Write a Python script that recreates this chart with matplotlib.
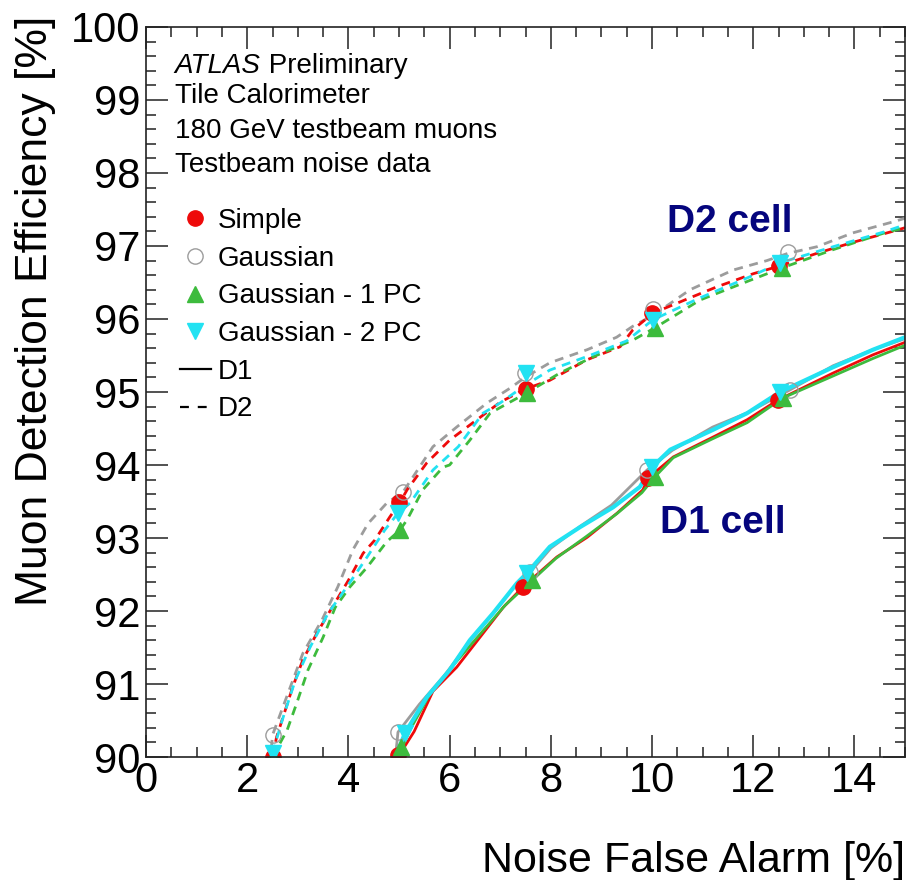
import matplotlib
matplotlib.use('Agg')
import matplotlib.pyplot as plt
from matplotlib.lines import Line2D

plt.rcParams['font.family'] = ['Liberation Sans', 'DejaVu Sans']

# D2 cell curves (dashed)
simple_d2_x = [2.5, 2.58, 2.9, 3.1, 3.38, 3.68, 4.0, 4.29, 4.52, 4.82, 5.02, 5.16, 5.55, 6.0, 6.54, 7.0,
               7.49, 7.98, 8.71, 9.37, 9.62, 10.02, 10.75, 11.28, 12.0, 12.49, 13.26, 13.97, 14.7, 15.0]
simple_d2_y = [90.0, 90.27, 90.96, 91.33, 91.7, 92.05, 92.42, 92.79, 92.97, 93.29, 93.49, 93.66, 94.03, 94.34,
               94.62, 94.86, 95.04, 95.16, 95.44, 95.62, 95.85, 96.08, 96.29, 96.44, 96.62, 96.72, 96.9, 97.05,
               97.19, 97.25]
gauss_d2_x = [2.45, 2.5, 2.81, 3.1, 3.48, 3.79, 4.09, 4.39, 4.76, 5.08, 5.28, 5.67, 6.14, 6.74, 7.19, 7.49,
              7.98, 8.72, 9.3, 9.62, 10.02, 10.75, 11.6, 12.27, 12.69, 13.26, 13.97, 14.76, 15.0]
gauss_d2_y = [89.9, 90.3, 90.88, 91.42, 91.88, 92.33, 92.84, 93.2, 93.48, 93.63, 93.84, 94.25, 94.52, 94.85,
              95.05, 95.2, 95.4, 95.58, 95.75, 95.9, 96.05, 96.4, 96.67, 96.8, 96.9, 96.99, 97.18, 97.33, 97.38]
pc1_d2_x = [2.5, 2.79, 2.98, 3.2, 3.5, 3.74, 4.03, 4.37, 4.76, 5.02, 5.16, 5.47, 5.87, 6.0, 6.4, 6.8, 7.19,
            7.53, 8.18, 8.83, 9.62, 10.06, 10.95, 11.94, 12.57, 13.58, 14.64, 15.0]
pc1_d2_y = [90.0, 90.37, 90.74, 91.19, 91.64, 92.05, 92.33, 92.6, 92.95, 93.11, 93.25, 93.66, 93.97, 94.0,
            94.34, 94.71, 94.86, 94.99, 95.26, 95.48, 95.71, 95.88, 96.26, 96.53, 96.7, 96.95, 97.19, 97.25]
pc2_d2_x = [2.5, 2.69, 2.95, 3.24, 3.6, 3.97, 4.37, 4.72, 4.98, 5.22, 5.67, 6.17, 6.66, 7.0, 7.51, 7.98,
            8.77, 9.5, 10.02, 10.95, 11.94, 12.53, 13.58, 14.57, 15.0]
pc2_d2_y = [90.05, 90.5, 91.05, 91.5, 91.97, 92.33, 92.74, 93.11, 93.34, 93.48, 93.93, 94.25, 94.71, 94.85,
            95.1, 95.3, 95.5, 95.7, 95.99, 96.29, 96.58, 96.77, 96.99, 97.19, 97.29]

# D1 cell curves (solid)
simple_d1_x = [4.98, 5.3, 5.67, 6.14, 6.6, 7.06, 7.45, 8.12, 8.72, 9.31, 9.82, 9.92, 10.42, 11.2, 11.88,
               12.49, 13.58, 14.37, 15.0]
simple_d1_y = [90.0, 90.35, 90.9, 91.23, 91.64, 92.05, 92.33, 92.74, 93.01, 93.34, 93.66, 93.82, 94.11, 94.38,
               94.62, 94.89, 95.26, 95.51, 95.68]
gauss_d1_x = [4.93, 4.98, 5.4, 5.9, 6.4, 6.9, 7.3, 7.59, 8.0, 8.6, 9.2, 9.9, 10.4, 11.2, 11.9, 12.73, 13.58,
              14.37, 15.0]
gauss_d1_y = [90.0, 90.34, 90.72, 91.12, 91.58, 92.0, 92.35, 92.53, 92.86, 93.17, 93.45, 93.93, 94.2, 94.52,
              94.72, 95.03, 95.36, 95.58, 95.73]
pc1_d1_x = [4.98, 5.2, 5.6, 6.1, 6.6, 7.1, 7.63, 8.1, 8.7, 9.3, 9.8, 10.06, 10.42, 11.2, 11.88, 12.59, 13.58,
            14.37, 15.0]
pc1_d1_y = [90.0, 90.35, 90.85, 91.28, 91.68, 92.08, 92.42, 92.72, 93.02, 93.33, 93.62, 93.84, 94.1, 94.36,
            94.58, 94.92, 95.22, 95.46, 95.64]
pc2_d1_x = [4.93, 5.12, 5.55, 6.0, 6.4, 6.86, 7.33, 7.53, 7.98, 8.58, 9.23, 9.76, 10.0, 10.36, 11.2, 11.88,
            12.53, 13.58, 14.37, 15.0]
pc2_d1_y = [90.0, 90.33, 90.82, 91.19, 91.6, 91.97, 92.38, 92.52, 92.88, 93.15, 93.42, 93.7, 93.97, 94.21,
            94.48, 94.71, 95.0, 95.34, 95.58, 95.75]

# marker points
simple_d2_mx = [2.5, 5.0, 7.5, 10.0, 12.5]
simple_d2_my = [90.0, 93.49, 95.04, 96.08, 96.72]
gauss_d2_mx = [2.5, 5.08, 7.49, 10.02, 12.69]
gauss_d2_my = [90.3, 93.63, 95.26, 96.14, 96.92]
pc1_d2_mx = [2.5, 5.02, 7.53, 10.06, 12.57]
pc1_d2_my = [90.0, 93.11, 94.99, 95.88, 96.7]
pc2_d2_mx = [2.5, 4.98, 7.51, 10.02, 12.53]
pc2_d2_my = [90.05, 93.34, 95.26, 95.99, 96.77]

simple_d1_mx = [4.98, 7.45, 9.92, 12.49]
simple_d1_my = [90.03, 92.33, 93.82, 94.89]
gauss_d1_mx = [4.98, 7.59, 9.9, 12.73]
gauss_d1_my = [90.34, 92.53, 93.93, 95.03]
pc1_d1_mx = [5.04, 7.63, 10.06, 12.59]
pc1_d1_my = [90.14, 92.42, 93.84, 94.92]
pc2_d1_mx = [5.12, 7.53, 10.0, 12.53]
pc2_d1_my = [90.33, 92.52, 93.97, 95.0]

red = '#ee0a0a'
gray = '#9c9c9c'
green = '#3dbb3d'
cyan = '#22e2f2'
navy = '#05057d'

fig = plt.figure(figsize=(9.11, 8.8), dpi=100)
ax = fig.add_axes([146 / 911, 1 - 757 / 880, 759 / 911, 730 / 880])

dash = (0, (3.2, 2.4))
ax.plot(gauss_d2_x, gauss_d2_y, color=gray, lw=2.0, linestyle=dash)
ax.plot(simple_d2_x, simple_d2_y, color=red, lw=2.0, linestyle=dash)
ax.plot(pc1_d2_x, pc1_d2_y, color=green, lw=2.0, linestyle=dash)
ax.plot(pc2_d2_x, pc2_d2_y, color=cyan, lw=2.0, linestyle=dash)

ax.plot(simple_d1_x, simple_d1_y, color=red, lw=2.0)
ax.plot(gauss_d1_x, gauss_d1_y, color=gray, lw=2.0)
ax.plot(pc1_d1_x, pc1_d1_y, color=green, lw=2.0)
ax.plot(pc2_d1_x, pc2_d1_y, color=cyan, lw=3.0)

ms = 11
for mx, my in [(simple_d2_mx, simple_d2_my), (simple_d1_mx, simple_d1_my)]:
    ax.plot(mx, my, 'o', color=red, ms=ms, mec=red, linestyle='none')
for mx, my in [(gauss_d2_mx, gauss_d2_my), (gauss_d1_mx, gauss_d1_my)]:
    ax.plot(mx, my, 'o', mfc='none', mec=gray, mew=1.0, ms=ms, linestyle='none')
for mx, my in [(pc1_d2_mx, pc1_d2_my), (pc1_d1_mx, pc1_d1_my)]:
    ax.plot(mx, my, '^', color=green, ms=ms, linestyle='none')
for mx, my in [(pc2_d2_mx, pc2_d2_my), (pc2_d1_mx, pc2_d1_my)]:
    ax.plot(mx, my, 'v', color=cyan, ms=ms, linestyle='none')

ax.set_xlim(0, 15)
ax.set_ylim(90, 100)
ax.set_xticks(range(0, 15, 2))
ax.set_xticks([i * 0.5 for i in range(31)], minor=True)
ax.set_yticks(range(90, 101))
ax.set_yticks([90 + i * 0.2 for i in range(51)], minor=True)
ax.tick_params(which='both', direction='in', top=True, right=True, width=1.1, color='#222222')
ax.tick_params(which='major', length=15.5, labelsize=30)
ax.tick_params(which='minor', length=7.5)
ax.tick_params(axis='x', pad=3)
ax.tick_params(axis='y', pad=4)
for s in ax.spines.values():
    s.set_linewidth(1.2)
    s.set_color('#222222')

ax.set_xlabel('Noise False Alarm [%]', fontsize=31, loc='right')
ax.xaxis.label.set_va('baseline')
ax.xaxis.set_label_coords(1.0, -0.1575)
ax.set_ylabel('Muon Detection Efficiency [%]', fontsize=32, loc='top')
ax.yaxis.set_label_coords(-0.118, 1.016)

tsize = 20
atl = ax.text(0.038, 0.937, 'ATLAS', style='italic', fontsize=tsize, transform=ax.transAxes, va='baseline')
ax.annotate(' Preliminary', xy=(1, 0), xycoords=atl, fontsize=tsize, va='bottom')
ax.text(0.038, 0.896, 'Tile Calorimeter', fontsize=tsize, transform=ax.transAxes, va='baseline')
ax.text(0.038, 0.848, '180 GeV testbeam muons', fontsize=tsize, transform=ax.transAxes, va='baseline')
ax.text(0.038, 0.801, 'Testbeam noise data', fontsize=tsize, transform=ax.transAxes, va='baseline')

ax.text(0.6864, 0.719, 'D2 cell', fontsize=28, fontweight='bold', color=navy, transform=ax.transAxes,
        va='baseline')
ax.text(0.677, 0.307, 'D1 cell', fontsize=28, fontweight='bold', color=navy, transform=ax.transAxes,
        va='baseline')

handles = [
    Line2D([], [], marker='o', color=red, linestyle='none', ms=ms),
    Line2D([], [], marker='o', mfc='none', mec=gray, mew=1.0, linestyle='none', ms=ms),
    Line2D([], [], marker='^', color=green, linestyle='none', ms=ms),
    Line2D([], [], marker='v', color=cyan, linestyle='none', ms=ms),
    Line2D([], [], color='black', lw=1.6),
    Line2D([], [], color='black', lw=1.6, linestyle=(0, (4, 4))),
]
labels = ['Simple', 'Gaussian', 'Gaussian - 1 PC', 'Gaussian - 2 PC', 'D1', 'D2']
ax.legend(handles, labels, loc='upper left', bbox_to_anchor=(0.045, 0.752), frameon=False, fontsize=tsize,
          borderpad=0, borderaxespad=0, handlelength=1.1, handletextpad=0.25, labelspacing=0.42)

fig.savefig('out.png', dpi=100)
